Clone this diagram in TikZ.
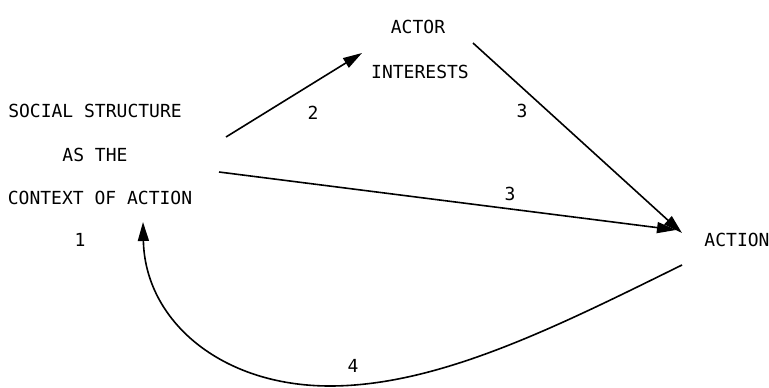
\documentclass[tikz,border=0pt]{standalone}
\usepackage{fontspec}
\setmainfont{DejaVu Sans Mono}
\usetikzlibrary{arrows.meta}
\tikzset{
  lbl/.style={font=\fontsize{18}{18}\selectfont, inner sep=0pt, anchor=center},
  conn/.style={line width=1.6pt, -{Triangle[length=19pt,width=11pt]}},
}
\begin{document}
\begin{tikzpicture}[x=1pt,y=-1pt]
\useasboundingbox (0,0) rectangle (769,388);
% nodes
\node[lbl] (actor) at (418,27) {ACTOR};
\node[lbl] (interests) at (420,72) {INTERESTS};
\node[lbl] (social) at (95,111) {SOCIAL STRUCTURE};
\node[lbl] (asthe) at (95,155) {AS THE};
\node[lbl] (context) at (100,198) {CONTEXT OF ACTION};
\node[lbl] (one) at (80,240) {1};
\node[lbl] (action) at (737,240) {ACTION};
% connector end points
\coordinate (a2s) at (226,137);
\coordinate (a2e) at (362,53);
\coordinate (a3s) at (473,43);
\coordinate (a3e) at (682,233);
\coordinate (b3s) at (219,172);
\coordinate (b3e) at (676,230);
\coordinate (c4s) at (682,265);
\coordinate (c4m) at (330,386);
\coordinate (c4e) at (143,222);
% connectors
\draw[conn] (a2s) -- (a2e);
\draw[conn] (a3s) -- (a3e);
\draw[conn] (b3s) -- (b3e);
\draw[conn] (c4s) .. controls (560,325) and (440,386) .. (c4m)
  .. controls (220,386) and (145,320) .. (c4e);
% edge labels
\node[lbl] (l2) at (313,113) {2};
\node[lbl] (l3a) at (522,111) {3};
\node[lbl] (l3b) at (510,194) {3};
\node[lbl] (l4) at (353,366) {4};
\end{tikzpicture}
\end{document}
